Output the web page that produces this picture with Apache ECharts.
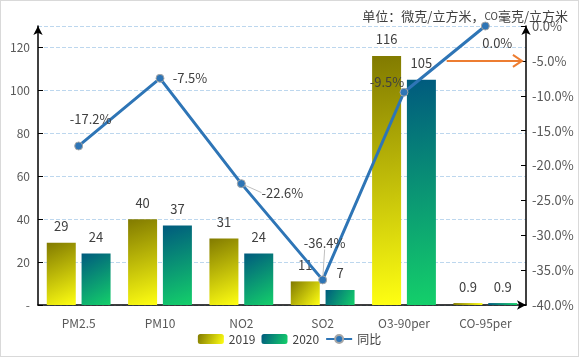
<!DOCTYPE html>
<html><head><meta charset="utf-8">
<script src="https://cdn.jsdelivr.net/npm/echarts@6/dist/echarts.min.js"></script>
<style>
html,body{margin:0;padding:0;background:#fff;}
#c{width:579px;height:357px;box-sizing:border-box;border:1px solid #d9d9d9;}
</style></head>
<body><div id="c"></div>
<script>
var categories = ['PM2.5','PM10','NO2','SO2','O3-90per','CO-95per'];
var values2019 = [29,40,31,11,116,0.9];
var values2020 = [24,37,24,7,105,0.9];
var yoy = [-17.2,-7.5,-22.6,-36.4,-9.5,0.0];
var yoyLabelShift = [[12,-27],[30,0],[41,9],[2,-37],[-17,-10],[12,17]];
var yoyLeader = [false,false,true,true,false,false];
var arrowLevel = -5;

var font = '"Noto Sans CJK SC", "DejaVu Sans", sans-serif';
var chart = echarts.init(document.getElementById('c'));
var g2019 = new echarts.graphic.LinearGradient(0,0,1,1,[{offset:0,color:'#817a00'},{offset:1,color:'#ffff12'}]);
var g2020 = new echarts.graphic.LinearGradient(0,0,1,1,[{offset:0,color:'#005a7e'},{offset:1,color:'#14d06a'}]);
chart.setOption({
  textStyle:{fontFamily:font},
  title:{
    text:'{a|单位：微克/立方米，}{b|CO}{a|毫克/立方米}',
    right:5, top:4,
    textStyle:{fontWeight:'normal',rich:{a:{fontSize:13,color:'#404040',fontFamily:font,fontWeight:'normal'},b:{fontSize:10,color:'#404040',fontFamily:font,fontWeight:'normal'}}}
  },
  legend:{
    bottom:6, left:'center', itemWidth:26, itemHeight:10, itemGap:6,
    textStyle:{fontSize:12,color:'#404040'},
    data:[{name:'2019',itemStyle:{color:g2019}},{name:'2020',itemStyle:{color:g2020}},{name:'同比'}]
  },
  grid:{left:37,right:52,top:25,bottom:51},
  xAxis:{
    type:'category', data:categories,
    axisLine:{lineStyle:{color:'#000',width:1.5},symbol:['none','arrow'],symbolSize:[7,9]},
    axisTick:{alignWithLabel:true,inside:true,length:4,lineStyle:{color:'#000'}},
    axisLabel:{color:'#595959',fontSize:12,margin:12}
  },
  yAxis:[{
    type:'value', min:0, max:130, interval:20,
    axisLine:{show:true,lineStyle:{color:'#000',width:1.5},symbol:['none','arrow'],symbolSize:[7,9]},
    axisTick:{show:true,inside:true,length:5,lineStyle:{color:'#000'}},
    axisLabel:{color:'#595959',fontSize:12,showMaxLabel:false,formatter:function(v){return v===0?'-':v;}},
    splitLine:{show:true,lineStyle:{color:'#bdd7ee',type:'dashed'}}
  },{
    type:'value', min:-40, max:0, interval:5,
    axisLine:{show:true,lineStyle:{color:'#000',width:1.5},symbol:['none','arrow'],symbolSize:[7,9]},
    axisTick:{show:true,inside:true,length:5,lineStyle:{color:'#000'}},
    axisLabel:{color:'#595959',fontSize:13,margin:6,formatter:function(v){return v.toFixed(1)+'%';}},
    splitLine:{show:false}
  }],
  series:[{
    name:'2019', type:'bar', data:values2019, barWidth:29, barGap:'20%',
    itemStyle:{color:g2019},
    label:{show:true,position:'top',distance:10,color:'#404040',fontSize:13}
  },{
    name:'2020', type:'bar', data:values2020, barWidth:29,
    itemStyle:{color:g2020},
    label:{show:true,position:'top',distance:10,color:'#404040',fontSize:13}
  },{
    name:'同比', type:'line', yAxisIndex:1, z:5,
    data:yoy.map(function(v,i){return {value:v,labelLine:{show:yoyLeader[i]}};}),
    lineStyle:{color:'#2e75b6',width:3},
    itemStyle:{color:'#2e75b6',borderColor:'#a6a6a6',borderWidth:1},
    symbol:'circle', symbolSize:8,
    label:{show:true,position:'inside',color:'#404040',fontSize:13,formatter:function(p){return p.value.toFixed(1)+'%';}},
    labelLayout:function(p){var s=yoyLabelShift[p.dataIndex];return {dx:s[0],dy:s[1]};},
    labelLine:{show:true,lineStyle:{color:'#bfbfbf',width:1}}
  }]
});
// orange annotation arrow pointing at the -5% level of the right axis
var pA = chart.convertToPixel({xAxisIndex:0}, categories[4]);
var pB = chart.convertToPixel({xAxisIndex:0}, categories[5]);
var yA = chart.convertToPixel({yAxisIndex:1}, arrowLevel);
var x1 = (pA + pB) / 2 + 2;
var x2 = pB + (pB - pA) * 0.45;
chart.setOption({
  graphic:[
    {type:'line',shape:{x1:x1,y1:yA,x2:x2,y2:yA},style:{stroke:'#ed7d31',lineWidth:2},z:10},
    {type:'polyline',shape:{points:[[x2-9,yA-6],[x2,yA],[x2-9,yA+6]]},style:{stroke:'#ed7d31',lineWidth:2,fill:null},z:10}
  ]
});
</script></body></html>
